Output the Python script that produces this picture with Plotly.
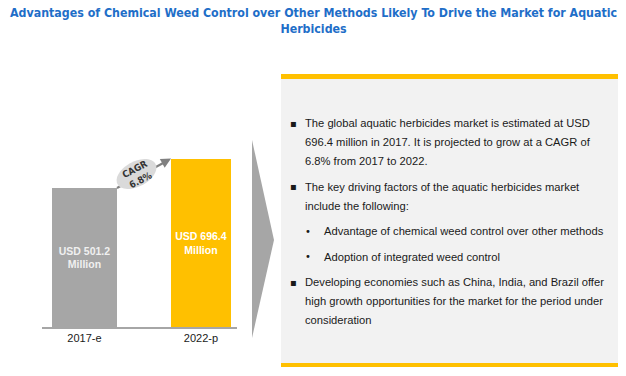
import numpy as np
import plotly.graph_objects as go

W, H = 626, 376

# ---- data ----
CATEGORIES = ["2017-e", "2022-p"]
VALUES = [501.2, 696.4]
BAR_LABELS = ["USD 501.2<br>Million", "USD 696.4<br>Million"]
BAR_COLORS = ["#a6a6a6", "#ffc000"]
BAR_TEXT_COLORS = ["#f0f0f0", "#ffffff"]
CAGR_TEXT = "CAGR<br>6.8%"
TITLE = ("Advantages of Chemical Weed Control over Other Methods Likely To Drive the Market for Aquatic"
         "<br>Herbicides")
PARAGRAPHS = [
    (0, ["The global aquatic herbicides market is estimated at USD",
         "696.4 million in 2017. It is projected to grow at a CAGR of",
         "6.8% from 2017 to 2022."]),
    (0, ["The key driving factors of the aquatic herbicides market",
         "include the following:"]),
    (1, ["Advantage of chemical weed control over other methods"]),
    (1, ["Adoption of integrated weed control"]),
    (0, ["Developing economies such as China, India, and Brazil offer",
         "high growth opportunities for the market for the period under",
         "consideration"]),
]

AXIS_FLOOR = -434.4   # visual baseline of the infographic's value axis


def px(x):
    return x / W


def py(y):
    return 1 - y / H


fig = go.Figure()

fig.add_trace(go.Bar(
    x=CATEGORIES,
    y=[v - AXIS_FLOOR for v in VALUES],
    base=AXIS_FLOOR,
    width=[0.56, 0.52],
    marker=dict(color=BAR_COLORS, line=dict(width=0)),
    text=BAR_LABELS,
    textposition="inside",
    insidetextanchor="middle",
    textangle=0,
    insidetextfont=dict(family="Liberation Sans, Arial, sans-serif", size=10.5,
                        color=BAR_TEXT_COLORS, weight="bold"),
    hoverinfo="skip",
))

y_top_px, y_bot_px = 140, 327
k = (327 - 159) / (VALUES[1] - AXIS_FLOOR)
range_top = AXIS_FLOOR + (y_bot_px - y_top_px) / k

shapes = []
shapes.append(dict(type="line", xref="paper", yref="paper",
                   x0=px(117), y0=py(188), x1=px(166), y1=py(161.5),
                   line=dict(color="#808080", width=2)))
cx, cy, a, b, th = 136.5, 174, 21.5, 12.5, np.deg2rad(-28)
t = np.linspace(0, 2 * np.pi, 60)
ex = cx + a * np.cos(t) * np.cos(th) - b * np.sin(t) * np.sin(th)
ey = cy + a * np.cos(t) * np.sin(th) + b * np.sin(t) * np.cos(th)
path = "M " + " L ".join(f"{px(x):.5f},{py(y):.5f}" for x, y in zip(ex, ey)) + " Z"
shapes.append(dict(type="path", xref="paper", yref="paper", path=path,
                   fillcolor="#dadada", line=dict(width=0)))
shapes.append(dict(type="path", xref="paper", yref="paper",
                   path=f"M {px(252)},{py(140)} L {px(274)},{py(240)} L {px(252)},{py(338)} Z",
                   fillcolor="#a6a6a6", line=dict(width=0)))
shapes.append(dict(type="rect", xref="paper", yref="paper",
                   x0=px(281), x1=px(618), y0=py(79), y1=py(363),
                   fillcolor="#f2f2f2", line=dict(width=0)))
shapes.append(dict(type="rect", xref="paper", yref="paper",
                   x0=px(281), x1=px(618), y0=py(74), y1=py(79),
                   fillcolor="#ffc000", line=dict(width=0)))
shapes.append(dict(type="rect", xref="paper", yref="paper",
                   x0=px(281), x1=px(618), y0=py(363), y1=py(367),
                   fillcolor="#ffc000", line=dict(width=0)))

annotations = []
annotations.append(dict(text=TITLE, xref="paper", yref="paper", x=0.5, y=py(21.5),
                        xanchor="center", yanchor="middle", showarrow=False,
                        font=dict(family="DejaVu Sans Condensed, sans-serif",
                                  size=12.3, color="#1e6ec8", weight="bold")))
annotations.append(dict(text="", xref="paper", yref="paper", x=px(171), y=py(158.5),
                        ax=-10, ay=5.5, axref="pixel", ayref="pixel",
                        showarrow=True, arrowhead=2, arrowsize=1, arrowwidth=2,
                        arrowcolor="#808080", standoff=0))
annotations.append(dict(text=CAGR_TEXT, xref="paper", yref="paper", x=px(137), y=py(174),
                        xanchor="center", yanchor="middle", showarrow=False, textangle=-28,
                        font=dict(family="DejaVu Sans Condensed, sans-serif",
                                  size=9.5, color="#333333", weight="bold")))

text_font = dict(family="Liberation Sans, Arial, sans-serif", size=11.2, color="#1a1a1a")
y = 123.0
LINE_STEP, PARA_STEP = 19.0, 25.5
for pi, (level, lines) in enumerate(PARAGRAPHS):
    if pi > 0:
        y += PARA_STEP
    bx, tx = (293, 303) if level == 0 else (308, 322)
    bullet = "▪" if level == 0 else "•"
    annotations.append(dict(text=bullet, xref="paper", yref="paper", x=px(bx), y=py(y),
                            xanchor="center", yanchor="middle", showarrow=False,
                            font=dict(family="DejaVu Sans, sans-serif", size=10, color="#1a1a1a")))
    for li, line in enumerate(lines):
        if li > 0:
            y += LINE_STEP
        annotations.append(dict(text=line, xref="paper", yref="paper", x=px(tx), y=py(y),
                                xanchor="left", yanchor="middle", showarrow=False, font=text_font))

fig.update_layout(
    width=W, height=H,
    margin=dict(l=0, r=0, t=0, b=0),
    paper_bgcolor="white", plot_bgcolor="rgba(0,0,0,0)",
    showlegend=False,
    bargap=0,
    xaxis=dict(domain=[px(42), px(237)], range=[-0.365, 1.31],
               showline=True, linecolor="#a6a6a6", linewidth=1.5,
               showgrid=False, zeroline=False, ticks="",
               tickfont=dict(family="Liberation Sans, Arial, sans-serif", size=11, color="#1a1a1a"),
               fixedrange=True),
    yaxis=dict(domain=[py(y_bot_px), py(y_top_px)], range=[AXIS_FLOOR, range_top],
               visible=False, fixedrange=True),
    shapes=shapes,
    annotations=annotations,
)

fig.write_html("out.html", post_script="document.body.style.margin='0';",
               config={"displayModeBar": False})
